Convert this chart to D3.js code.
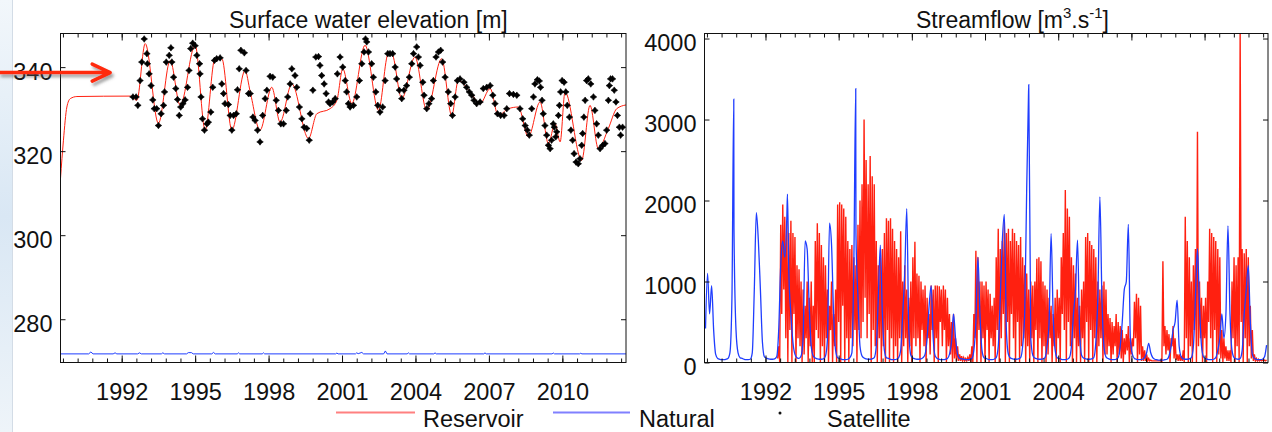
<!DOCTYPE html>
<html>
<head>
<meta charset="utf-8">
<script src="https://cdn.jsdelivr.net/npm/d3@7"></script>
<style>
  body { margin: 0; background: #fff; }
  svg { display: block; font-family: "Liberation Sans", Arial, sans-serif; }
</style>
</head>
<body>
<svg id="chart" width="1272" height="432"></svg>
<script>
// ---- data ----
var yearTicks = [1992, 1995, 1998, 2001, 2004, 2007, 2010];
var elevTicks = [280, 300, 320, 340];
var flowTicks = [0, 1000, 2000, 3000, 4000];

// surface water elevation [m], [year, value]
var reservoirElev = [
  [1989.5, 313.5], [1989.62, 322.6], [1989.76, 330.5], [1989.9, 332.5], [1990.17, 333.0],
  [1992.35, 333.1], [1992.62, 332.1], [1992.96, 345.6], [1993.5, 326.6], [1993.98, 341.6],
  [1994.39, 330.9], [1995.0, 345.2], [1995.41, 325.0], [1995.81, 342.0], [1996.09, 342.0],
  [1996.5, 325.0], [1997.04, 339.2], [1997.25, 334.1], [1997.65, 325.0], [1998.13, 335.2],
  [1998.47, 326.9], [1998.95, 336.0], [1999.63, 323.0], [1999.97, 328.9], [2000.51, 330.1],
  [2000.79, 332.1], [2001.03, 339.6], [2001.4, 331.3], [2001.94, 345.2], [2002.49, 329.7],
  [2002.89, 343.2], [2003.03, 343.2], [2003.44, 332.5], [2003.98, 342.4], [2004.46, 329.7],
  [2005.07, 342.0], [2005.48, 328.5], [2005.75, 336.8], [2006.23, 334.1], [2006.64, 331.3],
  [2007.05, 334.9], [2007.38, 328.5], [2007.79, 330.1], [2008.2, 330.5], [2008.61, 323.4],
  [2009.09, 331.7], [2009.43, 321.8], [2009.7, 326.6], [2009.91, 322.2], [2010.11, 334.1],
  [2010.79, 317.8], [2011.13, 330.9], [2011.47, 320.6], [2011.88, 325.4], [2012.22, 330.1],
  [2012.6, 331.0]
];

var naturalElev = [
  [1989.5, 271.75], [1990.65, 271.75], [1990.74, 272.2], [1990.83, 271.75], [1991.65, 271.75],
  [1991.73, 272.0], [1991.8, 271.75], [1992.65, 271.75], [1992.73, 272.0], [1992.8, 271.75],
  [1993.62, 271.75], [1993.68, 272.0], [1993.75, 271.75], [1994.65, 271.75], [1994.72, 272.05],
  [1994.85, 272.05], [1994.92, 271.75], [1995.68, 271.75], [1995.75, 272.1], [1995.82, 271.75],
  [1996.72, 271.75], [1996.77, 272.0], [1996.82, 271.75], [1997.74, 271.75], [1997.79, 272.0],
  [1997.84, 271.75], [2000.74, 271.75], [2000.79, 271.95], [2000.84, 271.75], [2001.55, 271.75],
  [2001.6, 272.0], [2001.66, 271.8], [2001.81, 272.1], [2001.88, 271.75], [2002.7, 271.75],
  [2002.77, 272.45], [2002.84, 271.75], [2003.66, 271.75], [2003.71, 272.0], [2003.76, 271.75],
  [2004.75, 271.75], [2004.8, 272.0], [2004.85, 271.75], [2006.79, 271.75], [2006.84, 272.0],
  [2006.89, 271.75], [2009.58, 271.75], [2009.63, 271.95], [2009.68, 271.75], [2010.7, 271.75],
  [2010.75, 271.9], [2010.8, 271.75], [2012.6, 271.75]
];

var satelliteElev = [
  [1992.46, 332.9], [1992.59, 332.9], [1992.66, 330.9], [1992.75, 336.8], [1992.82, 341.2],
  [1992.92, 346.7], [1993.03, 343.2], [1993.05, 340.8], [1993.12, 338.4], [1993.2, 335.6],
  [1993.27, 332.2], [1993.33, 330.1], [1993.43, 330.1], [1993.5, 326.1], [1993.61, 328.9],
  [1993.71, 330.9], [1993.75, 334.1], [1993.82, 341.2], [1993.94, 342.8], [1994.01, 344.6],
  [1994.05, 341.2], [1994.12, 337.6], [1994.21, 334.9], [1994.28, 332.3], [1994.35, 328.5],
  [1994.41, 330.5], [1994.5, 331.3], [1994.59, 332.2], [1994.69, 335.2], [1994.75, 339.2],
  [1994.82, 344.4], [1994.9, 345.7], [1995.0, 345.1], [1995.07, 342.8], [1995.18, 340.8],
  [1995.2, 338.4], [1995.24, 332.9], [1995.3, 327.7], [1995.38, 325.0], [1995.48, 326.5],
  [1995.54, 326.9], [1995.64, 329.3], [1995.72, 335.2], [1995.79, 341.6], [1995.88, 342.0],
  [1996.02, 342.2], [1996.09, 336.0], [1996.16, 333.7], [1996.22, 331.3], [1996.36, 331.1],
  [1996.43, 328.5], [1996.5, 325.0], [1996.57, 328.5], [1996.68, 328.9], [1996.73, 334.6],
  [1996.8, 339.6], [1996.87, 344.0], [1997.01, 343.4], [1997.08, 339.2], [1997.18, 333.7],
  [1997.25, 333.7], [1997.36, 328.1], [1997.45, 327.3], [1997.55, 325.0], [1997.65, 322.2],
  [1997.76, 328.5], [1997.86, 332.5], [1997.93, 334.5], [1998.06, 337.8], [1998.17, 337.6],
  [1998.31, 332.1], [1998.40, 329.7], [1998.50, 326.5], [1998.61, 326.5], [1998.72, 329.7],
  [1998.78, 332.9], [1998.88, 336.0], [1998.95, 339.6], [1999.08, 338.0], [1999.15, 335.2],
  [1999.26, 330.5], [1999.36, 327.7], [1999.45, 325.7], [1999.56, 325.4], [1999.66, 322.6],
  [1999.70, 328.9], [1999.81, 334.5], [1999.93, 342.4], [2000.04, 342.5], [2000.10, 340.4],
  [2000.17, 338.0], [2000.27, 336.0], [2000.35, 333.7], [2000.45, 331.7], [2000.51, 331.3],
  [2000.62, 331.7], [2000.72, 332.5], [2000.81, 338.4], [2000.92, 342.4], [2001.03, 340.0],
  [2001.13, 336.8], [2001.19, 334.1], [2001.26, 331.3], [2001.33, 330.5], [2001.47, 330.9],
  [2001.60, 332.9], [2001.71, 336.8], [2001.81, 340.8], [2001.90, 343.6], [2001.96, 346.7],
  [2002.01, 346.0], [2002.08, 343.6], [2002.21, 340.8], [2002.28, 337.6], [2002.38, 334.1],
  [2002.46, 330.9], [2002.55, 329.3], [2002.66, 330.5], [2002.76, 336.8], [2002.87, 343.2],
  [2002.96, 343.2], [2003.07, 343.2], [2003.17, 340.0], [2003.23, 337.2], [2003.34, 334.5],
  [2003.44, 332.5], [2003.53, 334.5], [2003.64, 335.6], [2003.75, 337.6], [2003.85, 340.8],
  [2003.92, 343.2], [2004.05, 344.8], [2004.12, 342.4], [2004.19, 340.4], [2004.30, 336.4],
  [2004.35, 333.3], [2004.46, 330.1], [2004.55, 331.3], [2004.66, 332.5], [2004.73, 336.8],
  [2004.84, 342.4], [2004.94, 343.6], [2005.03, 344.0], [2005.11, 341.2], [2005.21, 337.6],
  [2005.34, 334.1], [2005.44, 331.3], [2005.51, 328.5], [2005.62, 332.9], [2005.71, 336.8],
  [2005.82, 337.2], [2005.98, 336.4], [2006.09, 335.2], [2006.20, 334.1], [2006.30, 333.3],
  [2006.39, 332.1], [2006.50, 331.3], [2006.64, 331.7], [2006.77, 334.9], [2006.91, 335.2],
  [2007.05, 335.6], [2007.16, 333.3], [2007.25, 331.3], [2007.35, 328.9], [2007.48, 328.5],
  [2007.62, 328.5], [2007.73, 330.1], [2007.84, 333.7], [2008.00, 333.5], [2008.14, 333.3],
  [2008.27, 330.1], [2008.38, 327.7], [2008.48, 326.1], [2008.57, 325.0], [2008.65, 323.8],
  [2008.75, 330.1], [2008.82, 332.9], [2008.88, 336.0], [2008.98, 337.0], [2009.06, 336.7],
  [2009.11, 335.2], [2009.17, 332.1], [2009.22, 328.9], [2009.29, 326.1], [2009.36, 323.8],
  [2009.43, 321.4], [2009.50, 320.6], [2009.56, 322.6], [2009.63, 326.5], [2009.67, 325.7],
  [2009.73, 323.4], [2009.77, 324.6], [2009.84, 328.5], [2009.88, 330.9], [2009.93, 334.1],
  [2009.99, 336.8], [2010.07, 336.4], [2010.14, 334.1], [2010.20, 330.9], [2010.29, 328.1],
  [2010.35, 325.0], [2010.42, 322.6], [2010.48, 319.4], [2010.56, 317.4], [2010.65, 317.0],
  [2010.72, 318.2], [2010.79, 321.4], [2010.83, 324.2], [2010.88, 328.1], [2010.93, 332.1],
  [2010.99, 336.8], [2011.06, 337.2], [2011.16, 336.0], [2011.27, 332.9], [2011.33, 329.7],
  [2011.40, 326.5], [2011.47, 323.8], [2011.54, 320.6], [2011.65, 321.4], [2011.74, 321.8],
  [2011.81, 325.0], [2011.88, 332.1], [2011.92, 335.6], [2011.97, 337.2], [2012.05, 337.2],
  [2012.12, 334.5], [2012.19, 331.7], [2012.25, 328.5], [2012.33, 325.7], [2012.38, 323.8],
  [2012.46, 325.7]
];

// streamflow [m3/s], one row per year (Jan..Dec, null = outside record)
var naturalFlowFirstYear = 1989;
var naturalFlow = [
  [null, null, null, null, null, null, 420, 1100, 600, 950, 400, 100],
  [50, 40, 35, 35, 40, 50, 120, 800, 1650, 400, 120, 60],
  [50, 40, 35, 35, 40, 120, 900, 1850, 1500, 900, 250, 70],
  [55, 45, 40, 40, 45, 70, 400, 1200, 1500, 1300, 1800, 1100],
  [600, 250, 100, 60, 50, 80, 300, 1500, 1400, 700, 200, 80],
  [55, 45, 40, 40, 45, 80, 300, 1720, 1450, 600, 150, 60],
  [50, 40, 35, 35, 40, 60, 120, 1300, 1600, 800, 200, 80],
  [55, 45, 40, 40, 45, 60, 200, 800, 1450, 600, 150, 60],
  [50, 40, 35, 35, 40, 60, 150, 600, 1100, 1900, 400, 90],
  [55, 45, 40, 40, 45, 60, 100, 300, 700, 950, 300, 80],
  [50, 40, 35, 35, 40, 50, 100, 250, 600, 300, 100, 50],
  [45, 40, 35, 35, 40, 50, 150, 500, 1300, 600, 150, 60],
  [50, 40, 35, 35, 40, 60, 200, 800, 1500, 1830, 400, 100],
  [55, 45, 40, 40, 45, 60, 200, 600, 2150, 3430, 300, 90],
  [55, 45, 40, 40, 45, 60, 200, 500, 1590, 600, 150, 60],
  [50, 40, 35, 35, 40, 60, 200, 600, 900, 1510, 400, 90],
  [55, 45, 40, 40, 45, 60, 250, 800, 2045, 800, 200, 70],
  [50, 40, 35, 35, 40, 60, 200, 500, 900, 1000, 1706, 300],
  [100, 50, 40, 35, 35, 40, 60, 120, 236, 120, 60, 40],
  [35, 30, 30, 30, 35, 40, 80, 200, 400, 500, 770, 200],
  [70, 45, 40, 40, 45, 60, 200, 800, 1407, 700, 200, 70],
  [50, 40, 35, 35, 40, 60, 150, 300, 600, 300, 600, 1687],
  [600, 150, 60, 45, 40, 50, 150, 600, 900, 1200, 500, 100],
  [50, 40, 35, 35, 40, 70, 215]
];
var naturalFlowSpikes = [[1990.70, 3250], [1992.90, 2080], [1995.70, 3380], [2002.775, 3200]];

var reservoirFlowFirstYear = 1992;
var reservoirFlowPeak = [
  [null, null, null, null, null, null, 200, 1700, 1950, 1800, 1750, 1600],
  [1750, 1600, 1550, 1200, 1150, 1000, 900, 700, 1000, 800, 1000, 700],
  [1500, 1720, 1600, 1450, 1300, 1200, 900, 700, 1000, 600, 900, 1950],
  [1980, 1950, 1900, 1800, 1500, 1400, 1450, 1300, 1200, 1700, 2000, 2200],
  [3000, 2500, 2200, 2550, 2300, 2200, 1500, 1200, 1300, 1400, 1600, 1780],
  [1750, 1780, 1650, 1500, 1400, 1300, 1620, 1000, 1200, 900, 800, 1000],
  [1300, 1490, 1100, 1070, 1000, 900, 950, 800, 600, 950, 900, 950],
  [950, 940, 900, 950, 900, 800, 600, 500, 600, 300, 200, 100],
  [80, 60, 50, 60, 100, 200, 600, 1380, 1300, 1000, 1000, 950],
  [1000, 900, 850, 700, 800, 1300, 1650, 1400, 1500, 1750, 1600, 1650],
  [1500, 1650, 1600, 1500, 1450, 1550, 1300, 1200, 1100, 900, 1000, 950],
  [1000, 1280, 1300, 1250, 1000, 950, 900, 800, 700, 600, 800, 900],
  [800, 1300, 1600, 2130, 1900, 1800, 1300, 1200, 1100, 800, 700, 900],
  [1000, 1550, 1600, 1500, 1450, 1400, 1300, 1000, 900, 950, 1000, 900],
  [600, 550, 500, 450, 600, 500, 450, 400, 300, 350, 450, 300],
  [300, 750, 850, 800, 700, 200, 150, 100, 50, 30, 20, 20],
  [20, 20, 30, 1250, 450, 400, 350, 300, 450, 300, 100, 100],
  [80, 150, 1800, 1500, 1300, 1000, 1200, 1400, 2850, 1000, 800, 700],
  [800, 1000, 1650, 1600, 1550, 1500, 1400, 1300, 400, 300, 200, 150],
  [150, 1000, 1300, 1200, 1300, 4100, 1400, 1350, 1400, 1300, 700, 400],
  [100, 50, 40, 30, 30, 30, 30]
];
var reservoirFlowLow = [
  [null, null, null, null, null, null, 50, 0, 600, 900, 300, 0],
  [400, 0, 600, 0, 300, 200, 0, 100, 300, 0, 200, 0],
  [0, 400, 300, 0, 200, 0, 300, 0, 400, 0, 200, 0],
  [500, 0, 700, 0, 300, 0, 300, 200, 400, 0, 400, 300],
  [500, 800, 300, 600, 0, 400, 200, 0, 300, 0, 200, 0],
  [400, 0, 300, 0, 200, 0, 300, 0, 200, 300, 0, 200],
  [0, 300, 200, 300, 0, 400, 200, 0, 300, 100, 400, 0],
  [300, 0, 500, 200, 400, 0, 200, 100, 0, 50, 20, 20],
  [20, 20, 20, 20, 20, 0, 0, 300, 0, 400, 0, 300],
  [0, 400, 0, 300, 200, 0, 400, 0, 300, 600, 0, 500],
  [0, 600, 300, 0, 500, 0, 200, 300, 0, 200, 0, 300],
  [0, 400, 0, 300, 0, 200, 0, 100, 300, 0, 200, 0],
  [300, 0, 600, 400, 0, 500, 200, 0, 300, 0, 200, 0],
  [300, 0, 500, 0, 400, 0, 300, 0, 200, 300, 0, 100],
  [100, 200, 0, 100, 200, 0, 100, 50, 0, 100, 150, 0],
  [100, 200, 300, 0, 100, 20, 20, 20, 20, 20, 20, 20],
  [20, 20, 20, 0, 200, 100, 150, 0, 200, 50, 30, 20],
  [20, 20, 0, 300, 0, 200, 0, 400, 0, 200, 300, 0],
  [300, 0, 500, 300, 0, 400, 0, 100, 50, 0, 50, 20],
  [20, 0, 300, 0, 200, 0, 500, 0, 300, 0, 200, 50],
  [20, 20, 20, 20, 20, 20, 20]
];

// ---- layout ----
var svg = d3.select("#chart");
var yearDomain = [1989.5, 2012.6];
var leftBox = {left: 60.5, right: 626, top: 33.5, bottom: 362.5};
var rightBox = {left: 704.5, right: 1268, top: 33.5, bottom: 362.5};
var labelFont = 23.5;
var red = "#ff2010", blue = "#1f3dff";

var minorYears = d3.range(0, 39).map(function(i) { return 1989.6 + i * 0.6; })
  .filter(function(d) { return d <= yearDomain[1]; });

var defs = svg.append("defs");

// pale strip on the left edge of the slide
var grad = defs.append("linearGradient").attr("id", "strip")
  .attr("x1", 0).attr("y1", 0).attr("x2", 0).attr("y2", 1);
grad.append("stop").attr("offset", "0%").attr("stop-color", "#f2f7fb");
grad.append("stop").attr("offset", "50%").attr("stop-color", "#d9e7f4");
grad.append("stop").attr("offset", "100%").attr("stop-color", "#eef4f9");
svg.append("rect").attr("width", 12).attr("height", 432).attr("fill", "url(#strip)");
svg.append("line").attr("x1", 12.5).attr("x2", 12.5).attr("y1", 0).attr("y2", 432)
  .attr("stroke", "#d3dce6");

var shadow = defs.append("filter").attr("id", "shadow")
  .attr("x", "-10%").attr("y", "-50%").attr("width", "130%").attr("height", "250%");
shadow.append("feDropShadow").attr("dx", 2).attr("dy", 3).attr("stdDeviation", 1.8)
  .attr("flood-color", "#555").attr("flood-opacity", 0.55);

function flattenRows(rows, firstYear) {
  var out = [];
  rows.forEach(function(row, i) {
    row.forEach(function(v, m) {
      if (v != null) out.push([firstYear + i + (m + 0.5) / 12, v]);
    });
  });
  return out;
}

function styleAxis(g) {
  g.select(".domain").remove();
  g.selectAll("line").attr("stroke", "#111");
  g.selectAll("text").attr("fill", "#111")
    .attr("font-size", labelFont).attr("font-family", "'Liberation Sans', Arial, sans-serif");
}

function drawAxes(g, box, x, y, yValues) {
  g.append("g").attr("transform", "translate(0," + box.bottom + ")")
    .call(d3.axisBottom(x).tickValues(minorYears).tickSize(-4).tickFormat(""))
    .call(styleAxis);
  g.append("g").attr("transform", "translate(0," + box.bottom + ")")
    .call(d3.axisBottom(x).tickValues(yearTicks).tickSize(-7).tickPadding(21).tickFormat(d3.format("d")))
    .call(styleAxis);
  g.append("g").attr("transform", "translate(0," + box.top + ")")
    .call(d3.axisTop(x).tickValues(minorYears).tickSize(-4).tickFormat(""))
    .call(styleAxis);
  g.append("g").attr("transform", "translate(0," + box.top + ")")
    .call(d3.axisTop(x).tickValues(yearTicks).tickSize(-7).tickFormat(""))
    .call(styleAxis);
  g.append("g").attr("transform", "translate(" + box.left + ",0)")
    .call(d3.axisLeft(y).tickValues(yValues).tickSize(-5).tickPadding(8).tickFormat(d3.format("d")))
    .call(styleAxis)
    .selectAll("text").attr("dy", "0.52em");
  g.append("g").attr("transform", "translate(" + box.right + ",0)")
    .call(d3.axisRight(y).tickValues(yValues).tickSize(-5).tickFormat(""))
    .call(styleAxis);
  g.append("rect")
    .attr("x", box.left).attr("y", box.top)
    .attr("width", box.right - box.left).attr("height", box.bottom - box.top)
    .attr("fill", "none").attr("stroke", "#111").attr("stroke-width", 1);
}

function clipFor(id, box) {
  defs.append("clipPath").attr("id", id).append("rect")
    .attr("x", box.left).attr("y", box.top)
    .attr("width", box.right - box.left).attr("height", box.bottom - box.top);
  return "url(#" + id + ")";
}

// ---- left panel: surface water elevation ----
var xL = d3.scaleLinear().domain(yearDomain).range([leftBox.left, leftBox.right]);
var yL = d3.scaleLinear().domain([269.7, 348]).range([leftBox.bottom, leftBox.top]);
var gL = svg.append("g");
var plotL = gL.append("g").attr("clip-path", clipFor("clipL", leftBox));

plotL.append("path").datum(naturalElev)
  .attr("fill", "none").attr("stroke", blue).attr("stroke-width", 1)
  .attr("d", d3.line().x(function(d) { return xL(d[0]); }).y(function(d) { return yL(d[1]); }));

plotL.append("path").datum(reservoirElev)
  .attr("fill", "none").attr("stroke", red).attr("stroke-width", 1)
  .attr("d", d3.line().curve(d3.curveMonotoneX)
    .x(function(d) { return xL(d[0]); }).y(function(d) { return yL(d[1]); }));

var star4 = {
  draw: function(context, size) {
    var r = Math.sqrt(size), ri = r * 0.42;
    context.moveTo(0, -r); context.lineTo(ri, -ri); context.lineTo(r, 0); context.lineTo(ri, ri);
    context.lineTo(0, r); context.lineTo(-ri, ri); context.lineTo(-r, 0); context.lineTo(-ri, -ri);
    context.closePath();
  }
};
plotL.selectAll(".sat").data(satelliteElev).enter().append("path")
  .attr("class", "sat")
  .attr("transform", function(d) { return "translate(" + xL(d[0]) + "," + yL(d[1]) + ")"; })
  .attr("d", d3.symbol().type(star4).size(11))
  .attr("fill", "#000").attr("stroke", "#000").attr("stroke-width", 0.6);

drawAxes(gL, leftBox, xL, yL, elevTicks);

svg.append("text").attr("x", 229).attr("y", 28)
  .attr("font-size", 23).attr("fill", "#111")
  .text("Surface water elevation [m]");

// ---- right panel: streamflow ----
var xR = d3.scaleLinear().domain(yearDomain).range([rightBox.left, rightBox.right]);
var yR = d3.scaleLinear().domain([0, 4062]).range([rightBox.bottom, rightBox.top]);
var gR = svg.append("g");
var plotR = gR.append("g").attr("clip-path", clipFor("clipR", rightBox));

var reservoirSeries = [];
reservoirFlowPeak.forEach(function(row, i) {
  row.forEach(function(p, m) {
    if (p == null) return;
    var t = reservoirFlowFirstYear + i + m / 12;
    reservoirSeries.push([t, reservoirFlowLow[i][m]]);
    reservoirSeries.push([t + 1 / 24, p]);
  });
});

var naturalSeries = flattenRows(naturalFlow, naturalFlowFirstYear)
  .concat(naturalFlowSpikes)
  .sort(function(a, b) { return a[0] - b[0]; });

plotR.append("path").datum(reservoirSeries)
  .attr("fill", "none").attr("stroke", red).attr("stroke-width", 1.4)
  .attr("d", d3.line().x(function(d) { return xR(d[0]); }).y(function(d) { return yR(d[1]); }));

plotR.append("path").datum(naturalSeries)
  .attr("fill", "none").attr("stroke", blue).attr("stroke-width", 1.3)
  .attr("d", d3.line().curve(d3.curveMonotoneX)
    .x(function(d) { return xR(d[0]); }).y(function(d) { return yR(d[1]); }));

drawAxes(gR, rightBox, xR, yR, flowTicks);

var t2 = svg.append("text").attr("x", 916).attr("y", 28)
  .attr("font-size", 23).attr("fill", "#111");
t2.append("tspan").text("Streamflow [m");
t2.append("tspan").attr("font-size", 15).attr("dy", -10).text("3");
t2.append("tspan").attr("dy", 10).text(".s");
t2.append("tspan").attr("font-size", 15).attr("dy", -10).text("-1");
t2.append("tspan").attr("dy", 10).text("]");

// ---- legend ----
var legend = svg.append("g").attr("font-size", 23.5).attr("fill", "#111");
legend.append("line").attr("x1", 336).attr("x2", 415).attr("y1", 412.5).attr("y2", 412.5)
  .attr("stroke", "#ff8080").attr("stroke-width", 2);
legend.append("text").attr("x", 423).attr("y", 427).text("Reservoir");
legend.append("line").attr("x1", 553).attr("x2", 630).attr("y1", 412.5).attr("y2", 412.5)
  .attr("stroke", "#8080ff").attr("stroke-width", 2);
legend.append("text").attr("x", 639).attr("y", 427).text("Natural");
legend.append("circle").attr("cx", 780).attr("cy", 413).attr("r", 1.5).attr("fill", "#111");
legend.append("text").attr("x", 827).attr("y", 427).text("Satellite");

// ---- annotation arrow pointing at the 340 m level ----
var ay = yL(338.7), ax = xL(1991.53);
svg.append("path")
  .attr("d", "M0," + ay + "H" + (ax - 2) +
    "M" + (ax - 18) + "," + (ay - 8.5) + "L" + ax + "," + ay + "L" + (ax - 18) + "," + (ay + 8.5))
  .attr("fill", "none").attr("stroke", "#ff2a0a").attr("stroke-width", 3.5)
  .attr("stroke-linecap", "round").attr("stroke-linejoin", "round")
  .attr("filter", "url(#shadow)");
</script>
</body>
</html>
